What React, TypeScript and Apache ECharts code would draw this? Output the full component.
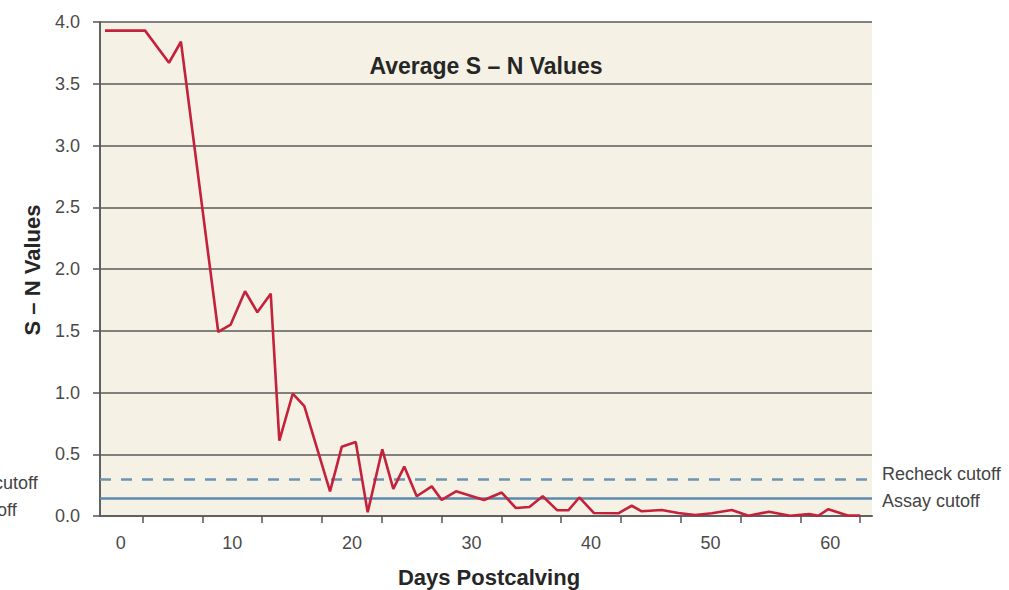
import React, { useEffect, useRef } from 'react';
import * as echarts from 'echarts';

const days = [-0.65, 2.7, 4.7, 5.7, 8.82, 9.86, 11.06, 12.09, 13.21, 13.93, 15.05, 16.02, 18.17, 19.15, 20.32, 21.32, 22.54, 23.46, 24.38, 25.42, 26.68, 27.51, 28.71, 31.05, 32.53, 33.7, 34.84, 35.96, 37.18, 38.1, 39.02, 40.25, 42.28, 43.4, 44.24, 45.91, 47.3, 48.7, 50.1, 51.77, 53.16, 54.89, 56.65, 58.24, 59.01, 59.85, 61.46, 62.51];
const snValues = [3.93, 3.93, 3.67, 3.84, 1.49, 1.55, 1.82, 1.65, 1.8, 0.61, 0.99, 0.89, 0.2, 0.56, 0.6, 0.03, 0.54, 0.22, 0.4, 0.16, 0.24, 0.13, 0.2, 0.13, 0.19, 0.065, 0.073, 0.16, 0.046, 0.046, 0.15, 0.024, 0.022, 0.083, 0.038, 0.049, 0.024, 0.008, 0.022, 0.049, 0.002, 0.035, 0.002, 0.016, 0.002, 0.055, 0.004, 0.004];
const xLabelDays = [0, 10, 20, 30, 40, 50, 60];
const xTickDays = [2.5, 7.5, 12.5, 17.5, 22.5, 27.5, 32.5, 37.5, 42.5, 47.5, 52.5, 57.5, 62.5];
const recheckCutoff = 0.3;
const assayCutoff = 0.135;
const title = 'Average S – N Values';
const yTitle = 'S – N Values';
const xTitle = 'Days Postcalving';
const recheckLabel = 'Recheck cutoff';
const assayLabel = 'Assay cutoff';

const FONT = '"Liberation Sans", Arial, sans-serif';

export default function App() {
  const ref = useRef<HTMLDivElement>(null);
  useEffect(() => {
    if (!ref.current) return;
    const chart = echarts.init(ref.current, undefined, { renderer: 'svg' });
    const lineData = days.map((d, i) => [d, snValues[i]]);
    chart.setOption({
      animation: false,
      backgroundColor: '#ffffff',
      grid: {
        left: 100,
        right: 137,
        top: 22,
        bottom: 74,
        show: true,
        backgroundColor: '#f5f2e5',
        borderWidth: 0,
      },
      xAxis: {
        type: 'value',
        min: -1.07,
        max: 63.5,
        splitLine: { show: false },
        axisLine: { show: true, onZero: false, lineStyle: { color: '#606060', width: 2 } },
        axisTick: {
          show: true,
          customValues: xTickDays,
          length: 7,
          lineStyle: { color: '#555', width: 1.5 },
        },
        axisLabel: {
          customValues: xLabelDays,
          margin: 18,
          fontFamily: FONT,
          fontSize: 18,
          color: '#4a4a4a',
          formatter: (v: number) => (v === 0 ? '{a|0}' : String(v)),
          rich: { a: { padding: [0, 0, 0, 16], fontFamily: FONT, fontSize: 18, color: '#4a4a4a' } },
        },
      },
      yAxis: {
        type: 'value',
        min: 0,
        max: 4,
        interval: 0.5,
        axisLine: { show: true, onZero: false, lineStyle: { color: '#606060', width: 2 } },
        axisTick: { show: true, length: 7, lineStyle: { color: '#555', width: 1.5 } },
        splitLine: { show: true, lineStyle: { color: '#5a5a5a', width: 1.6 } },
        axisLabel: {
          margin: 20,
          fontFamily: FONT,
          fontSize: 18,
          color: '#4a4a4a',
          formatter: (v: number) => v.toFixed(1),
        },
      },
      series: [
        {
          type: 'line',
          data: [],
          z: 1,
          markLine: {
            silent: true,
            symbol: 'none',
            label: { show: false },
            data: [
              { yAxis: recheckCutoff, lineStyle: { color: '#6b95b2', width: 2.5, type: [11, 10] } },
              { yAxis: assayCutoff, lineStyle: { color: '#5b8aad', width: 2.5, type: 'solid' } },
            ],
          },
        },
        {
          type: 'line',
          data: lineData,
          z: 5,
          symbol: 'none',
          lineStyle: { color: '#c4213c', width: 2.6 },
        },
      ],
      graphic: [
        {
          type: 'text',
          x: 486,
          y: 66,
          style: {
            text: title,
            font: `bold 23px ${FONT}`,
            fill: '#262626',
            align: 'center',
            verticalAlign: 'middle',
          },
        },
        {
          type: 'text',
          x: 32,
          y: 270,
          rotation: Math.PI / 2,
          style: {
            text: yTitle,
            font: `bold 22px ${FONT}`,
            fill: '#262626',
            align: 'center',
            verticalAlign: 'middle',
          },
        },
        {
          type: 'text',
          x: 489,
          y: 577,
          style: {
            text: xTitle,
            font: `bold 22px ${FONT}`,
            fill: '#262626',
            align: 'center',
            verticalAlign: 'middle',
          },
        },
        {
          type: 'text',
          x: 882,
          y: 474,
          style: { text: recheckLabel, font: `18px ${FONT}`, fill: '#444', align: 'left', verticalAlign: 'middle' },
        },
        {
          type: 'text',
          x: 882,
          y: 501,
          style: { text: assayLabel, font: `18px ${FONT}`, fill: '#444', align: 'left', verticalAlign: 'middle' },
        },
        {
          type: 'text',
          x: -81,
          y: 483,
          style: { text: recheckLabel, font: `18px ${FONT}`, fill: '#444', align: 'left', verticalAlign: 'middle' },
        },
        {
          type: 'text',
          x: -81,
          y: 510,
          style: { text: assayLabel, font: `18px ${FONT}`, fill: '#444', align: 'left', verticalAlign: 'middle' },
        },
      ],
    });
    return () => chart.dispose();
  }, []);
  return (
    <div
      ref={ref}
      style={{ position: 'fixed', left: 0, top: 0, width: 1009, height: 590 }}
    />
  );
}
